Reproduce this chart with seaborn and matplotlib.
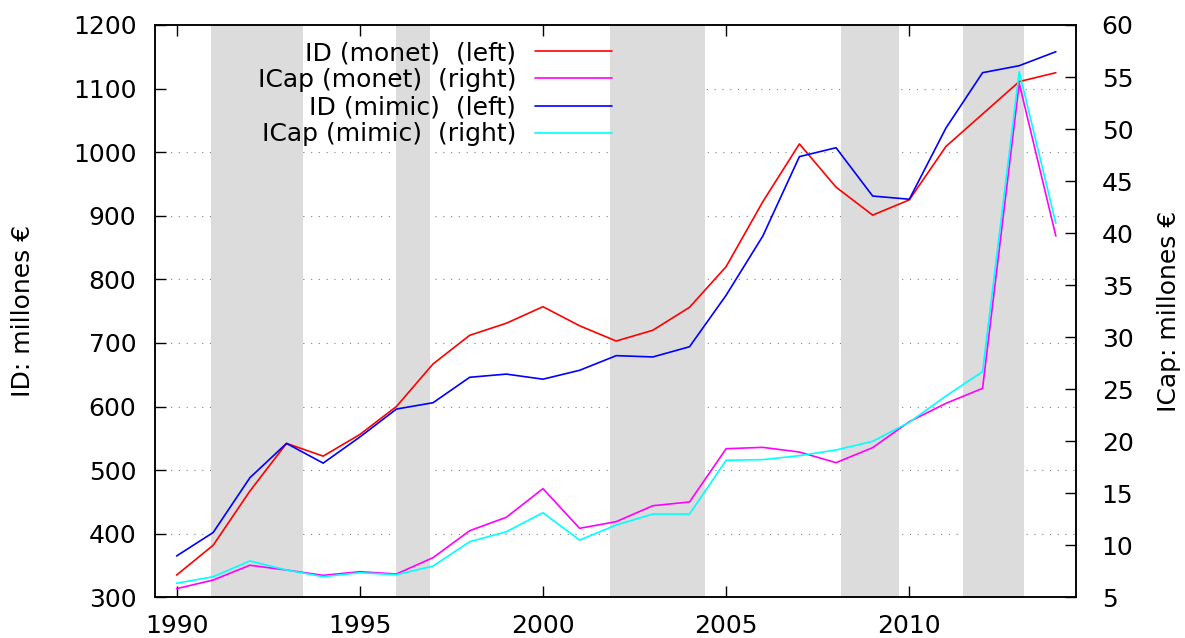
import matplotlib
matplotlib.use("Agg")
import matplotlib.pyplot as plt
import seaborn as sns
import pandas as pd

# ---- data ----
years = list(range(1990, 2015))
id_monet = [335, 382, 467, 542, 522, 556, 600, 667, 712, 731, 757, 727, 703,
            720, 756, 820, 922, 1013, 945, 901, 925, 1009, 1060, 1111, 1125]
id_mimic = [365, 402, 488, 542, 511, 552, 596, 606, 646, 651, 643, 657, 680,
            678, 694, 775, 868, 993, 1007, 931, 926, 1038, 1125, 1136, 1158]
icap_monet = [5.83, 6.66, 8.08, 7.62, 7.11, 7.46, 7.24, 8.81, 11.4, 12.69, 15.44,
              11.63, 12.27, 13.8, 14.16, 19.28, 19.41, 18.96, 17.94, 19.38, 21.88,
              23.64, 25.08, 54.4, 39.72]
icap_mimic = [6.35, 6.98, 8.49, 7.62, 6.98, 7.36, 7.17, 8.0, 10.34, 11.3, 13.13,
              10.5, 11.95, 13.0, 13.0, 18.17, 18.23, 18.61, 19.16, 19.99, 21.82,
              24.35, 26.68, 55.51, 40.94]
shade_start = [1990.94, 1996.0, 2001.82, 2008.14, 2011.47]
shade_end = [1993.44, 1996.93, 2004.41, 2009.73, 2013.13]
labels = ["ID (monet)  (left)", "ICap (monet)  (right)",
          "ID (mimic)  (left)", "ICap (mimic)  (right)"]
xticks = [1990, 1995, 2000, 2005, 2010]
left_ticks = list(range(300, 1201, 100))
right_ticks = list(range(5, 61, 5))
grid_vals = list(range(400, 1101, 100))

sns.set_style("white")
plt.rcParams["font.family"] = ["DejaVu Sans"]
for k in ("text.color", "axes.labelcolor", "xtick.color", "ytick.color"):
    plt.rcParams[k] = "black"
FS = 18

fig = plt.figure(figsize=(11.85, 6.38), dpi=100)
ax = fig.add_axes([155 / 1185, 1 - 597.3 / 638, (1076 - 155) / 1185, (597.3 - 25) / 638])
ax2 = ax.twinx()

XMIN, XMAX = 1989.41, 2014.55
ax.set_xlim(XMIN, XMAX)
ax.set_ylim(300, 1200)
ax2.set_ylim(5, 60)

# grid (dotted), drawn beneath the shading
for g in grid_vals:
    x0 = 2001.9 if g == 1100 else XMIN
    ax.hlines(g, x0, XMAX, colors="#808080", linestyles=(0, (1, 6)),
              linewidth=0.8, zorder=0.5)

for s, e in zip(shade_start, shade_end):
    ax.axvspan(s, e, color="#dcdcdc", lw=0, zorder=1)

df = pd.DataFrame({"year": years, "idm": id_monet, "idc": id_mimic,
                   "icm": icap_monet, "icc": icap_mimic})

lw = 1.2
sns.lineplot(data=df, x="year", y="idm", ax=ax, color="#ff0000", lw=lw, label=labels[0], legend=False, zorder=3)
sns.lineplot(data=df, x="year", y="idc", ax=ax, color="#0000ff", lw=lw, label=labels[2], legend=False, zorder=3)
sns.lineplot(data=df, x="year", y="icm", ax=ax2, color="#ff00ff", lw=lw, label=labels[1], legend=False, zorder=3)
sns.lineplot(data=df, x="year", y="icc", ax=ax2, color="#00ffff", lw=lw, label=labels[3], legend=False, zorder=3)

ax.set_xticks(xticks)
ax.set_yticks(left_ticks)
ax2.set_yticks(right_ticks)
ax.set_xlabel("")
ax.set_ylabel("ID: millones €", fontsize=FS, labelpad=27)
ax2.set_ylabel("ICap: millones €", fontsize=FS, labelpad=17)

ax.tick_params(axis="x", direction="in", top=True, bottom=True, length=8,
               width=1, labelsize=FS, pad=12, color="black")
ax.tick_params(axis="y", direction="in", left=True, right=False, length=8,
               width=1, labelsize=FS, pad=13.4, color="black")
ax2.tick_params(axis="y", direction="in", right=True, left=False, length=8,
                width=1, labelsize=FS, pad=18.5, color="black")
ax2.tick_params(axis="x", top=False, bottom=False)

for a in (ax, ax2):
    for sp in a.spines.values():
        sp.set_color("black")
        sp.set_linewidth(1.1)

h1, l1 = ax.get_legend_handles_labels()
h2, l2 = ax2.get_legend_handles_labels()
hd = dict(zip(l1 + l2, h1 + h2))
leg = ax2.legend([hd[l] for l in labels], labels, loc="upper right",
                 bbox_to_anchor=((612 - 155) / 921, 0.972), frameon=False,
                 markerfirst=False, fontsize=FS, handlelength=3.08,
                 handletextpad=0.75, labelspacing=0.125, borderpad=0,
                 borderaxespad=0)

fig.savefig("out.png", dpi=100)
